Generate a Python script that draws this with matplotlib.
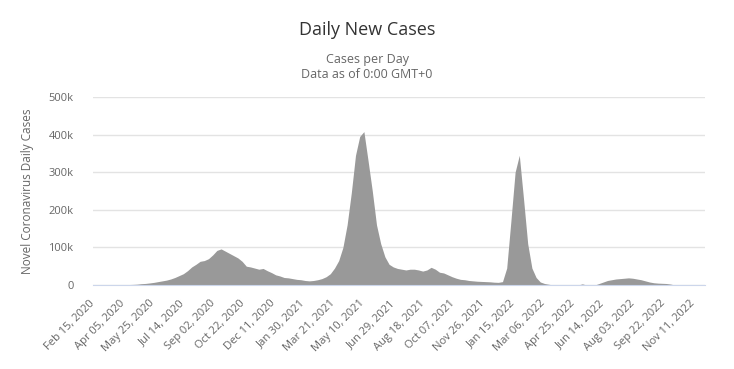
import numpy as np
import matplotlib
matplotlib.use("Agg")
from matplotlib import pyplot as plt
import matplotlib.transforms as mtransforms

plt.rcParams['font.family'] = ['Open Sans', 'DejaVu Sans']

# weekly readings (thousands of cases), week k starts Feb 15, 2020 + 7k days
weekly_k = [
    0, 0, 0, 0.03, 0.1, 0.2, 0.5, 0.8, 1.2, 1.6,
    2.2, 3.5, 4.2, 5.5, 7, 9, 11, 13, 16, 20,
    25, 30, 38, 48, 55, 63, 65, 70, 80, 92,
    96, 90, 84, 78, 72, 63, 50, 48, 45, 42,
    44, 38, 33, 27, 24, 20, 19, 17, 15, 14,
    12, 11, 12, 14, 17, 22, 30, 45, 65, 100,
    160, 245, 345, 395, 408, 330, 250, 160, 110, 75,
    55, 48, 44, 42, 40, 42, 42, 40, 37, 40,
    47, 42, 34, 32, 27, 22, 18, 15, 14, 12,
    11, 10, 9.5, 9, 8.5, 7.5, 7, 9, 45, 170,
    300, 345, 230, 110, 45, 20, 8, 4, 2, 0,
    0, 0, 0, 0, 0, 0, 3, 0, 0, 0,
    4, 8, 12, 14, 16, 17, 18, 19, 18, 16,
    14, 11, 8, 6, 5, 4.5, 4, 2.5, 0, 0,
    0, 0, 0, 0, 0, 0,
]

tick_days = list(range(0, 1001, 50))
tick_labels = [
    "Feb 15, 2020", "Apr 05, 2020", "May 25, 2020", "Jul 14, 2020",
    "Sep 02, 2020", "Oct 22, 2020", "Dec 11, 2020", "Jan 30, 2021",
    "Mar 21, 2021", "May 10, 2021", "Jun 29, 2021", "Aug 18, 2021",
    "Oct 07, 2021", "Nov 26, 2021", "Jan 15, 2022", "Mar 06, 2022",
    "Apr 25, 2022", "Jun 14, 2022", "Aug 03, 2022", "Sep 22, 2022",
    "Nov 11, 2022",
]
y_ticks = [0, 100000, 200000, 300000, 400000, 500000]
y_labels = ["0", "100k", "200k", "300k", "400k", "500k"]

cases = np.array(weekly_k) * 1000
mid_day = np.arange(len(cases)) * 7 + 3

fig = plt.figure(figsize=(7.34, 3.69), dpi=100)
ax = fig.add_axes([93/734, 1 - 285/369, 612/734, 188/369])

ax.fill_between(mid_day, 0, cases, color='#999999', linewidth=0)

ax.set_xlim(-0.5, 1019.5)
ax.set_ylim(0, 500000)

ax.set_yticks(y_ticks)
ax.set_yticklabels(y_labels, color='#666666', fontsize=8)
ax.set_xticks(tick_days)
ax.set_xticklabels(tick_labels, color='#666666', fontsize=8,
                   rotation=45, ha='right', rotation_mode='anchor', va='center')
offset = mtransforms.ScaledTranslation(4/100, -3/100, fig.dpi_scale_trans)
for lbl in ax.get_xticklabels():
    lbl.set_transform(lbl.get_transform() + offset)

ax.tick_params(axis='both', length=0, pad=12)
ax.tick_params(axis='y', pad=14)
ax.grid(axis='y', color='#e3e3e3', linewidth=1)
ax.set_axisbelow(True)
for side in ['top', 'right', 'left']:
    ax.spines[side].set_visible(False)
ax.spines['bottom'].set_color('#ccd6eb')

ax.set_ylabel("Novel Coronavirus Daily Cases", color='#666666', fontsize=8.5)
ax.yaxis.set_label_coords(-(93 - 34) / 612, 0.5)

fig.text(0.5, 1 - 30/369, "Daily New Cases", ha='center', va='center',
         fontsize=13, color='#333333')
fig.text(0.5, 1 - 60/369, "Cases per Day", ha='center', va='center',
         fontsize=9, color='#666666')
fig.text(0.5, 1 - 74/369, "Data as of 0:00 GMT+0", ha='center', va='center',
         fontsize=9, color='#666666')

fig.savefig("out.png", dpi=100)
